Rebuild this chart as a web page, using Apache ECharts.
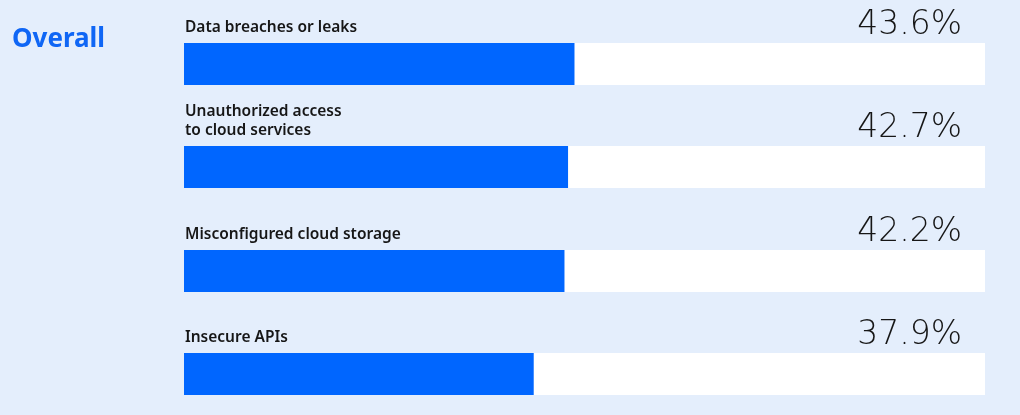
<!DOCTYPE html>
<html>
<head>
<meta charset="utf-8">
<script src="https://cdn.jsdelivr.net/npm/echarts@6/dist/echarts.min.js"></script>
<style>
html,body{margin:0;padding:0;background:#e4eefc;}
#chart{width:1020px;height:415px;}
</style>
</head>
<body>
<div id="chart"></div>
<script>
const title = 'Overall';
const categories = ['Data breaches or leaks', 'Unauthorized access\nto cloud services', 'Misconfigured cloud storage', 'Insecure APIs'];
const values = [43.6, 42.7, 42.2, 37.9];
const axisMin = -11;
const axisMax = 101;

const BLUE = '#0066ff';
const chart = echarts.init(document.getElementById('chart'));
chart.setOption({
  backgroundColor: '#e4eefc',
  animation: false,
  title: {
    text: title, left: 7, top: 22,
    textStyle: {color: '#0f66f5', fontSize: 26, fontWeight: 'bold', fontFamily: 'Noto Sans'}
  },
  grid: {left: 184, right: 35, top: 12.5, height: 413, outerBoundsMode: 'none', containLabel: false},
  xAxis: {type: 'value', min: axisMin, max: axisMax, show: false},
  yAxis: {type: 'category', data: categories, inverse: true, show: false},
  series: [{
    type: 'custom',
    encode: {x: 0, y: 1},
    data: values.map((v, i) => [v, i]),
    renderItem: function (params, api) {
      const v = api.value(0);
      const idx = api.value(1);
      const start = api.coord([axisMin, idx]);
      const end = api.coord([v, idx]);
      const full = api.coord([axisMax, idx]);
      const h = 42;
      const top = Math.round(start[1] - h / 2);
      return {
        type: 'group',
        children: [
          {type: 'rect', shape: {x: start[0], y: top, width: full[0] - start[0], height: h}, style: {fill: '#ffffff'}},
          {type: 'rect', shape: {x: start[0], y: top, width: end[0] - start[0], height: h}, style: {fill: BLUE}},
          {type: 'text', x: start[0] + 1, y: top - 6, style: {
            text: categories[idx], fill: '#161616', font: '600 15.5px "Noto Sans"',
            textAlign: 'left', textVerticalAlign: 'bottom', lineHeight: 19}},
          {type: 'text', x: full[0] - 23, y: top - 1, style: {
            text: v.toFixed(1) + '%', fill: '#161616', font: '300 33px "DejaVu Sans"',
            textAlign: 'right', textVerticalAlign: 'bottom'}}
        ]
      };
    }
  }]
});
</script>
</body>
</html>
